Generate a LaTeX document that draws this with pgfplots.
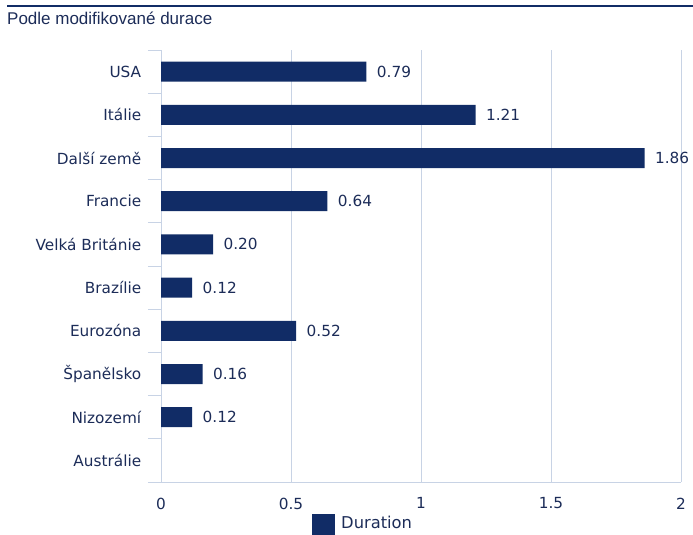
\documentclass[border=0pt]{standalone}
\usepackage{pgfplots}
\pgfplotsset{compat=1.18}
\usepackage{fontspec}
\setmainfont{DejaVu Sans}
\newfontfamily\arialfont{Liberation Sans}
\definecolor{barcol}{RGB}{17,44,102}
\definecolor{txtcol}{RGB}{28,44,88}
\definecolor{gridcol}{RGB}{200,211,229}
\begin{document}
\begin{tikzpicture}
\useasboundingbox (0pt,0pt) rectangle (693pt,-535pt);
\clip (0pt,0pt) rectangle (693pt,-535pt);
\fill[barcol] (7pt,-4.8pt) rectangle (693pt,-7.4pt);
\node[anchor=base west, inner sep=0pt, text=txtcol, font=\arialfont\fontsize{17}{19}\selectfont] at (7pt,-25pt) {Podle modifikované durace};
\begin{axis}[
  at={(161pt,-482pt)}, anchor=south west,
  scale only axis, width=520pt, height=432pt,
  xmin=0, xmax=2, ymin=-0.5, ymax=9.5, y dir=reverse,
  axis lines=left, axis line style={-, draw=gridcol, line width=1pt},
  xtick={0,0.5,1,1.5,2}, xticklabels={0,0.5,1,1.5,2},
  ytick={0,...,9},
  yticklabels={USA,Itálie,Další země,Francie,Velká Británie,Brazílie,Eurozóna,Španělsko,Nizozemí,Austrálie},
  minor ytick={-0.5,0.5,...,9.5},
  major y tick style={draw=none},
  minor y tick style={draw=gridcol, line width=1pt},
  minor tick length=13pt, tick align=outside,
  major x tick style={draw=none},
  xmajorgrids, grid style={draw=gridcol, line width=1pt},
  tick label style={text=txtcol, font=\fontsize{15.3}{17}\selectfont},
  yticklabel style={xshift=-12pt},
  xticklabel style={yshift=-8pt},
  clip=false,
  legend style={at={(0.2904,-0.0741)}, anchor=north west, draw=none, fill=none, inner sep=0pt,
    font=\fontsize{16.3}{18}\selectfont, text=txtcol},
  legend image code/.code={\fill[barcol] (0pt,-16pt) rectangle (23pt,9pt); \path (27pt,0pt);},
]
\addplot[xbar, bar width=20pt, fill=barcol, draw=none,
  nodes near coords, nodes near coords align={horizontal},
  every node near coord/.append style={anchor=west, text=txtcol, font=\fontsize{15.3}{17}\selectfont, xshift=7pt},
  point meta=explicit symbolic]
coordinates {
(0.79,0) [0.79]
(1.21,1) [1.21]
(1.86,2) [1.86]
(0.64,3) [0.64]
(0.20,4) [0.20]
(0.12,5) [0.12]
(0.52,6) [0.52]
(0.16,7) [0.16]
(0.12,8) [0.12]
};
\addlegendentry{Duration}
\end{axis}
\end{tikzpicture}
\end{document}
